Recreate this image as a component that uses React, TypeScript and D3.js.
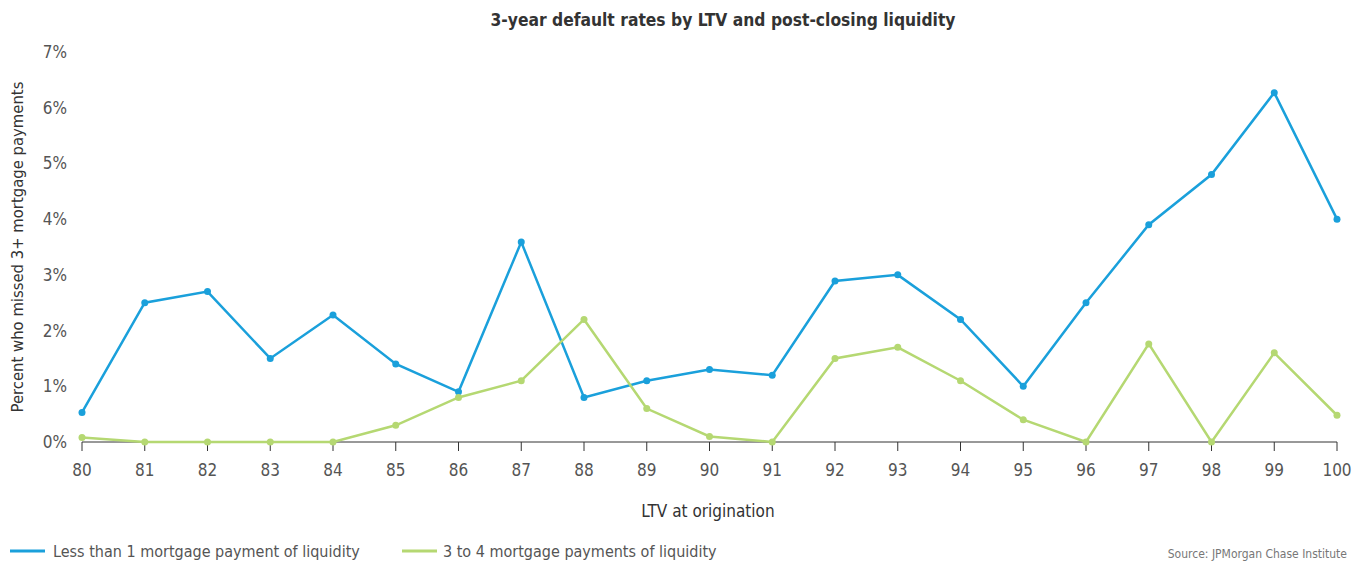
import React from "react";
import * as d3 from "d3";

const ltv = [80, 81, 82, 83, 84, 85, 86, 87, 88, 89, 90, 91, 92, 93, 94, 95, 96, 97, 98, 99, 100];
const lowLiquidity = [0.53, 2.5, 2.7, 1.5, 2.28, 1.4, 0.9, 3.59, 0.8, 1.1, 1.3, 1.2, 2.89, 3.0, 2.2, 1.0, 2.5, 3.9, 4.8, 6.27, 4.0];
const midLiquidity = [0.08, 0, 0, 0, 0, 0.3, 0.8, 1.1, 2.2, 0.6, 0.1, 0, 1.5, 1.7, 1.1, 0.4, 0, 1.76, 0, 1.6, 0.48];
const yTicks = [0, 1, 2, 3, 4, 5, 6, 7];
const seriesNames = ["Less than 1 mortgage payment of liquidity", "3 to 4 mortgage payments of liquidity"];
const colors = ["#1aa0db", "#b5d872"];

const W = 1362;
const H = 561;
const FONT = "'Liberation Sans Narrow', 'DejaVu Sans Condensed', 'Roboto Condensed', sans-serif";

export default function App() {
  const x = d3.scaleLinear().domain([80, 100]).range([82, 1337]);
  const y = d3.scaleLinear().domain([0, 7]).range([442, 52]);
  const line = d3
    .line<number>()
    .x((_, i) => x(ltv[i]))
    .y((d) => y(d));
  const series = [lowLiquidity, midLiquidity];
  return (
    <svg width={W} height={H} style={{ position: "absolute", left: 0, top: 0, fontFamily: FONT }}>
      <text x={723} y={26} textAnchor="middle" fontSize={17.3} fontWeight="bold" fill="#333">
        3-year default rates by LTV and post-closing liquidity
      </text>
      <text
        transform={`translate(23,247) rotate(-90)`}
        textAnchor="middle"
        fontSize={16.5}
        fill="#333"
      >
        Percent who missed 3+ mortgage payments
      </text>
      {yTicks.map((t) => (
        <text key={t} x={67} y={y(t)} dy="0.35em" textAnchor="end" fontSize={17} fill="#555">
          {t}%
        </text>
      ))}
      <line x1={82} x2={1337} y1={442} y2={442} stroke="#333" strokeWidth={1} />
      {ltv.map((v) => (
        <g key={v}>
          <line x1={x(v)} x2={x(v)} y1={442} y2={451} stroke="#333" strokeWidth={1} />
          <text x={x(v)} y={470} dy="0.35em" textAnchor="middle" fontSize={17} fill="#555">
            {v}
          </text>
        </g>
      ))}
      <text x={708} y={517} textAnchor="middle" fontSize={17} fill="#333">
        LTV at origination
      </text>
      {series.map((s, k) => (
        <g key={k}>
          <path d={line(s) || ""} fill="none" stroke={colors[k]} strokeWidth={2.5} />
          {s.map((d, i) => (
            <circle key={i} cx={x(ltv[i])} cy={y(d)} r={3.5} fill={colors[k]} />
          ))}
        </g>
      ))}
      {seriesNames.map((n, k) => {
        const lx = k === 0 ? 10 : 402;
        return (
          <g key={n}>
            <line x1={lx} x2={lx + 35} y1={551} y2={551} stroke={colors[k]} strokeWidth={3} />
            <text x={lx + (k === 0 ? 43 : 41)} y={551} dy="0.35em" fontSize={16} fill="#555">
              {n}
            </text>
          </g>
        );
      })}
      <text x={1347} y={554} dy="0.35em" textAnchor="end" fontSize={12} fill="#777">
        Source: JPMorgan Chase Institute
      </text>
    </svg>
  );
}
